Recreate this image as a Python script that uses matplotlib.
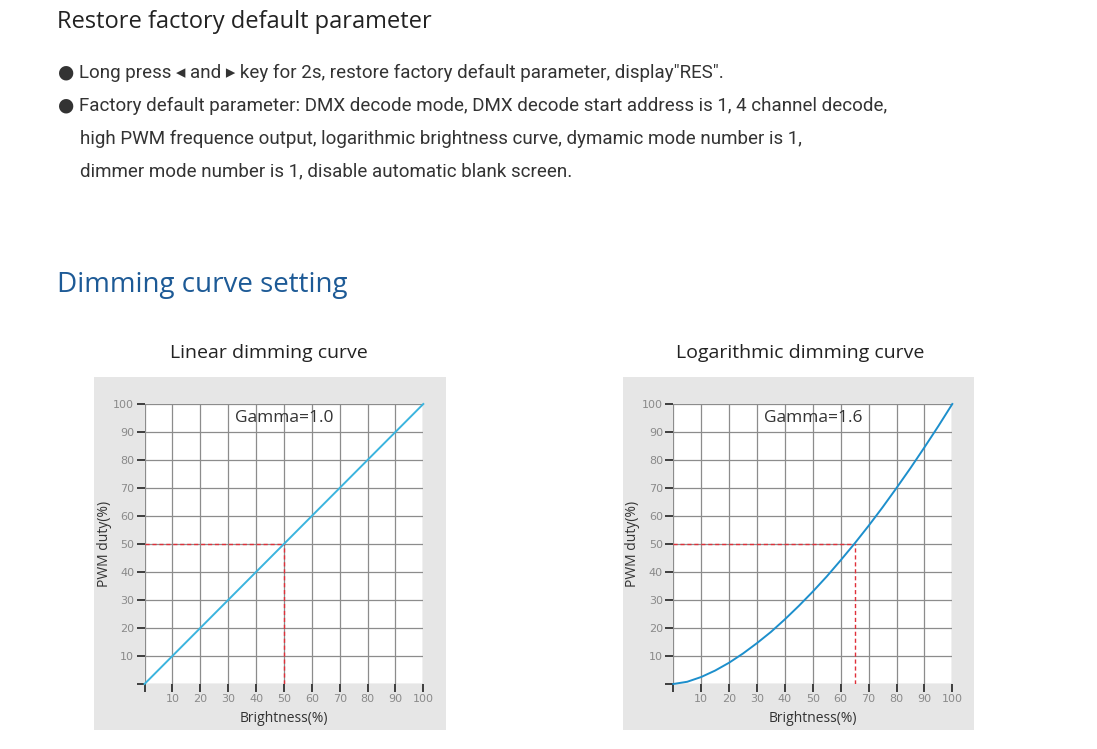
import matplotlib
matplotlib.use("Agg")
import matplotlib.pyplot as plt
from matplotlib.patches import Rectangle

# data
ticks = [10, 20, 30, 40, 50, 60, 70, 80, 90, 100]
lin_x = [0, 100]
lin_y = [0, 100]
log_x = [0, 5, 10, 15, 20, 25, 30, 35, 40, 45, 50, 55, 60, 65, 70, 75, 80, 85, 90, 95, 100]
log_y = [0, 0.8, 2.5, 4.8, 7.6, 10.9, 14.6, 18.6, 23.1, 27.9, 33.0, 38.4, 44.2, 50.2, 56.5, 63.1, 70.0, 77.1, 84.5, 92.1, 100]
lin_mark = (50, 50)
log_mark = (65, 50)
titles = ["Linear dimming curve", "Logarithmic dimming curve"]
gammas = ["Gamma=1.0", "Gamma=1.6"]

W, H = 1097, 749
fig = plt.figure(figsize=(W / 100, H / 100), dpi=100)
fig.patch.set_facecolor("white")

def fx(px):
    return px / W

def fy(py):
    return 1 - py / H

body = ["Roboto", "DejaVu Sans"]
head = ["Open Sans", "DejaVu Sans"]

fig.text(fx(57), fy(22), "Restore factory default parameter", family=head,
         fontsize=17, color="#222222", va="center", ha="left")
lines = [
    (58, 73, "\u25cf Long press \u25c2 and \u25b8 key for 2s, restore factory default parameter, display\"RES\"."),
    (58, 106, "\u25cf Factory default parameter: DMX decode mode, DMX decode start address is 1, 4 channel decode,"),
    (80, 139, "high PWM frequence output, logarithmic brightness curve, dymamic mode number is 1,"),
    (80, 171, "dimmer mode number is 1, disable automatic blank screen."),
]
for x, y, s in lines:
    fig.text(fx(x), fy(y), s, family=body, fontsize=13.5, color="#333333",
             va="center", ha="left")

fig.text(fx(57), fy(285), "Dimming curve setting", family=head, fontsize=20,
         color="#1d5a96", va="center", ha="left")

panels = [
    dict(box=(94, 377, 446, 730), ax=(144.5, 404, 423.3, 684), title_x=269,
         xs=lin_x, ys=lin_y, mark=lin_mark, color="#3bb4de"),
    dict(box=(623, 377, 974, 730), ax=(673.3, 404, 952.3, 684), title_x=800,
         xs=log_x, ys=log_y, mark=log_mark, color="#1d8fcc"),
]

for i, p in enumerate(panels):
    bx0, by0, bx1, by1 = p["box"]
    fig.patches.append(Rectangle((fx(bx0), fy(by1)), fx(bx1 - bx0), (by1 - by0) / H,
                                 transform=fig.transFigure, facecolor="#e6e6e6",
                                 edgecolor="none", zorder=-5))
    ax0, ay0, ax1, ay1 = p["ax"]
    ax = fig.add_axes([fx(ax0), fy(ay1), fx(ax1 - ax0), (ay1 - ay0) / H])
    ax.set_zorder(2)
    ax.set_facecolor("white")
    ax.set_xlim(0, 100)
    ax.set_ylim(0, 100)
    ax.set_xticks([0] + ticks)
    ax.set_yticks([0] + ticks)
    ax.set_xticklabels([""] + [str(t) for t in ticks])
    ax.set_yticklabels([""] + [str(t) for t in ticks])
    ax.grid(True, color="#8c8c8c", linewidth=0.9)
    ax.set_axisbelow(True)
    for s in ax.spines.values():
        s.set_visible(False)
    ax.tick_params(axis="both", length=6, width=1.2, color="#222222",
                   labelsize=8, labelcolor="#8a8a8a", pad=1.5)
    ax.plot(p["xs"], p["ys"], color=p["color"], linewidth=1.4, zorder=4,
            clip_on=False)
    mx, my = p["mark"]
    ax.plot([0, mx], [my, my], color="#e0303a", linestyle=(0, (3, 2)),
            linewidth=1.0, zorder=3)
    ax.plot([mx, mx], [0, my], color="#e0303a", linestyle=(0, (3, 2)),
            linewidth=1.0, zorder=3)
    ax.text(50, 95, gammas[i], family=head, fontsize=12.5, color="#333333",
            ha="center", va="center", zorder=5)
    ax.set_xlabel("Brightness(%)", family=head, fontsize=10, color="#333333",
                  labelpad=5)
    ax.set_ylabel("PWM duty(%)", family=head, fontsize=10, color="#333333",
                  labelpad=1)
    fig.text(fx(p["title_x"]), fy(353), titles[i], family=head, fontsize=14,
             color="#222222", ha="center", va="center")

fig.savefig("out.png", dpi=100)
